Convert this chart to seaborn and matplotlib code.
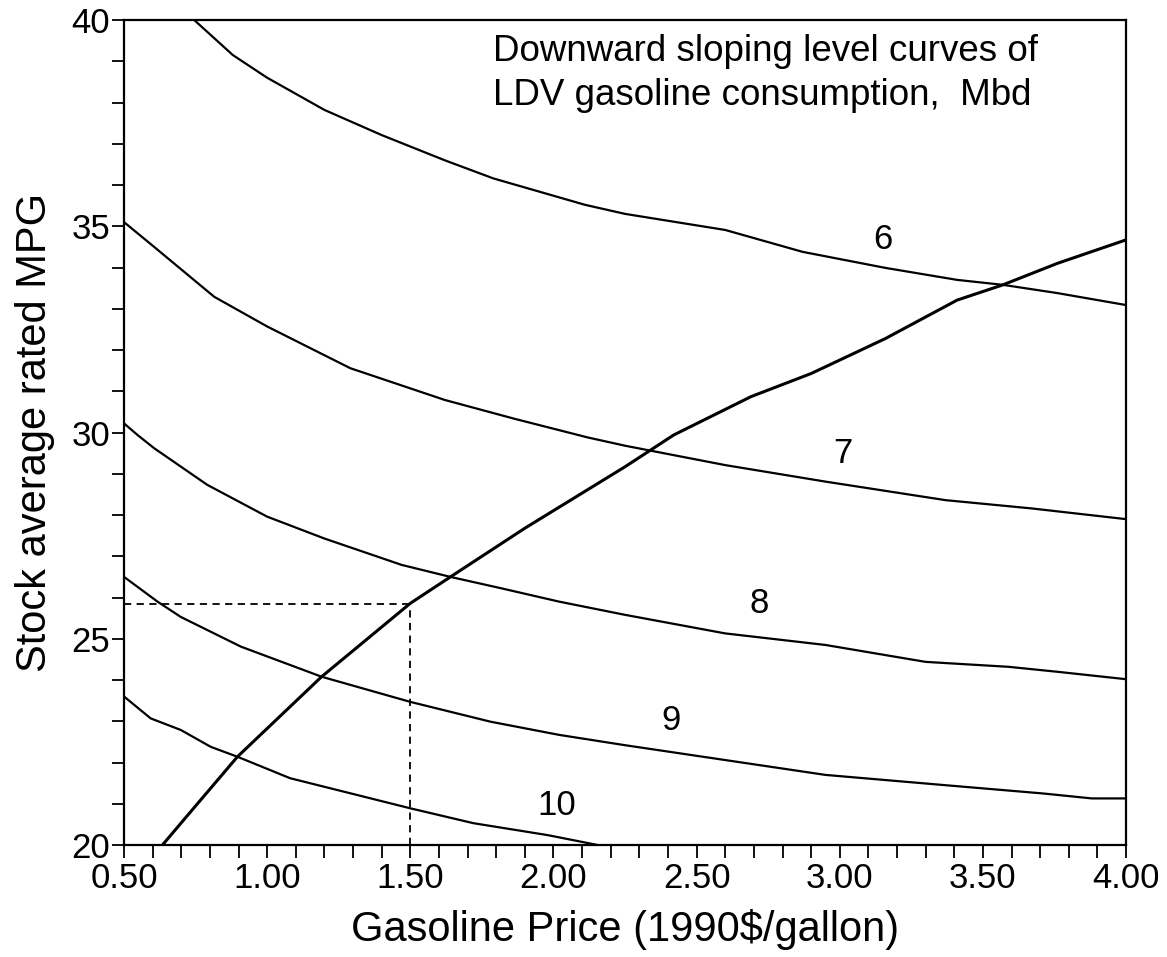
import matplotlib
matplotlib.use("Agg")
import matplotlib.pyplot as plt
from matplotlib.ticker import MultipleLocator, FormatStrFormatter
import seaborn as sns
import pandas as pd

# level curves of LDV gasoline consumption (Mbd)
curve6_price = [0.745, 0.88, 1.00, 1.20, 1.40, 1.62, 1.79, 2.11, 2.25, 2.60, 2.87, 3.16, 3.41, 3.57, 3.76, 4.00]
curve6_mpg = [40.0, 39.15, 38.6, 37.82, 37.21, 36.6, 36.16, 35.52, 35.3, 34.91, 34.38, 33.99, 33.70, 33.58, 33.38, 33.09]

curve7_price = [0.50, 0.605, 0.815, 1.00, 1.29, 1.62, 1.86, 2.12, 2.25, 2.60, 2.95, 3.37, 3.67, 4.00]
curve7_mpg = [35.1, 34.5, 33.29, 32.57, 31.56, 30.79, 30.34, 29.88, 29.68, 29.21, 28.81, 28.36, 28.16, 27.9]

curve8_price = [0.50, 0.547, 0.605, 0.791, 1.00, 1.20, 1.47, 1.64, 1.82, 2.02, 2.25, 2.60, 2.95, 3.30, 3.59, 3.76, 4.00]
curve8_mpg = [30.22, 29.94, 29.62, 28.73, 27.96, 27.43, 26.79, 26.50, 26.22, 25.90, 25.58, 25.13, 24.85, 24.44, 24.32, 24.2, 24.02]

curve9_price = [0.50, 0.617, 0.698, 0.908, 1.19, 1.50, 1.78, 2.02, 2.25, 2.60, 2.95, 3.37, 3.71, 3.88, 4.00]
curve9_mpg = [26.5, 25.9, 25.53, 24.81, 24.08, 23.47, 22.99, 22.67, 22.42, 22.06, 21.70, 21.45, 21.25, 21.13, 21.13]

curve10_price = [0.50, 0.593, 0.698, 0.803, 0.896, 1.08, 1.50, 1.72, 1.98, 2.155]
curve10_mpg = [23.6, 23.07, 22.79, 22.38, 22.14, 21.62, 20.89, 20.53, 20.24, 20.0]

# upward sloping curve (MPG response to price)
rising_price = [0.634, 0.733, 0.896, 1.19, 1.50, 1.64, 1.90, 2.25, 2.42, 2.69, 2.90, 3.16, 3.41, 3.57, 3.76, 4.00]
rising_mpg = [20.0, 20.81, 22.14, 24.08, 25.86, 26.50, 27.68, 29.17, 29.94, 30.87, 31.43, 32.28, 33.21, 33.58, 34.10, 34.67]

level_names = ["6", "7", "8", "9", "10"]
label_price = [3.15, 3.01, 2.72, 2.41, 2.01]
label_mpg = [34.67, 29.5, 25.86, 23.03, 20.97]

ref_price = 1.50
ref_mpg = 25.85

level_df = pd.concat([
    pd.DataFrame({"price": p, "mpg": m, "level": name})
    for p, m, name in zip(
        [curve6_price, curve7_price, curve8_price, curve9_price, curve10_price],
        [curve6_mpg, curve7_mpg, curve8_mpg, curve9_mpg, curve10_mpg],
        level_names,
    )
])
rising_df = pd.DataFrame({"price": rising_price, "mpg": rising_mpg})

sns.set_theme(style="ticks")
plt.rcParams["font.family"] = ["Liberation Sans", "DejaVu Sans"]
plt.rcParams["text.color"] = "black"
plt.rcParams["axes.labelcolor"] = "black"
plt.rcParams["xtick.color"] = "black"
plt.rcParams["ytick.color"] = "black"

fig = plt.figure(figsize=(11.67, 9.57), dpi=100)
ax = fig.add_axes([0.1063, 0.1170, 0.8586, 0.8621])

sns.lineplot(data=level_df, x="price", y="mpg", units="level", estimator=None,
             color="black", linewidth=1.6, sort=False, ax=ax)
sns.lineplot(data=rising_df, x="price", y="mpg", color="black", linewidth=2.2,
             sort=False, ax=ax)

# reference lines at $1.50
ax.plot([0.5, ref_price], [ref_mpg, ref_mpg], color="black", linewidth=1.3,
        linestyle=(0, (4, 3)))
ax.plot([ref_price, ref_price], [20, ref_mpg], color="black", linewidth=1.3,
        linestyle=(0, (4, 3)))

for name, px, py in zip(level_names, label_price, label_mpg):
    ax.text(px, py, name, fontsize=25, ha="center", va="center")

ax.text(1.79, 39.65, "Downward sloping level curves of\nLDV gasoline consumption,  Mbd",
        fontsize=26.5, ha="left", va="top", linespacing=1.3)

ax.set_xlim(0.5, 4.0)
ax.set_ylim(20, 40)
ax.xaxis.set_major_locator(MultipleLocator(0.5))
ax.xaxis.set_minor_locator(MultipleLocator(0.1))
ax.xaxis.set_major_formatter(FormatStrFormatter("%.2f"))
ax.yaxis.set_major_locator(MultipleLocator(5))
ax.yaxis.set_minor_locator(MultipleLocator(1))
ax.tick_params(which="both", direction="out", length=9, width=1.3, color="black",
               labelsize=25, pad=1)
ax.tick_params(axis="x", which="both", pad=3)

for side in ax.spines.values():
    side.set_visible(True)
    side.set_linewidth(1.6)
    side.set_color("black")

ax.set_xlabel("Gasoline Price (1990$/gallon)", fontsize=30, labelpad=10)
ax.set_ylabel("Stock average rated MPG", fontsize=30, labelpad=12)

fig.savefig("out.png", dpi=100, facecolor="white")
